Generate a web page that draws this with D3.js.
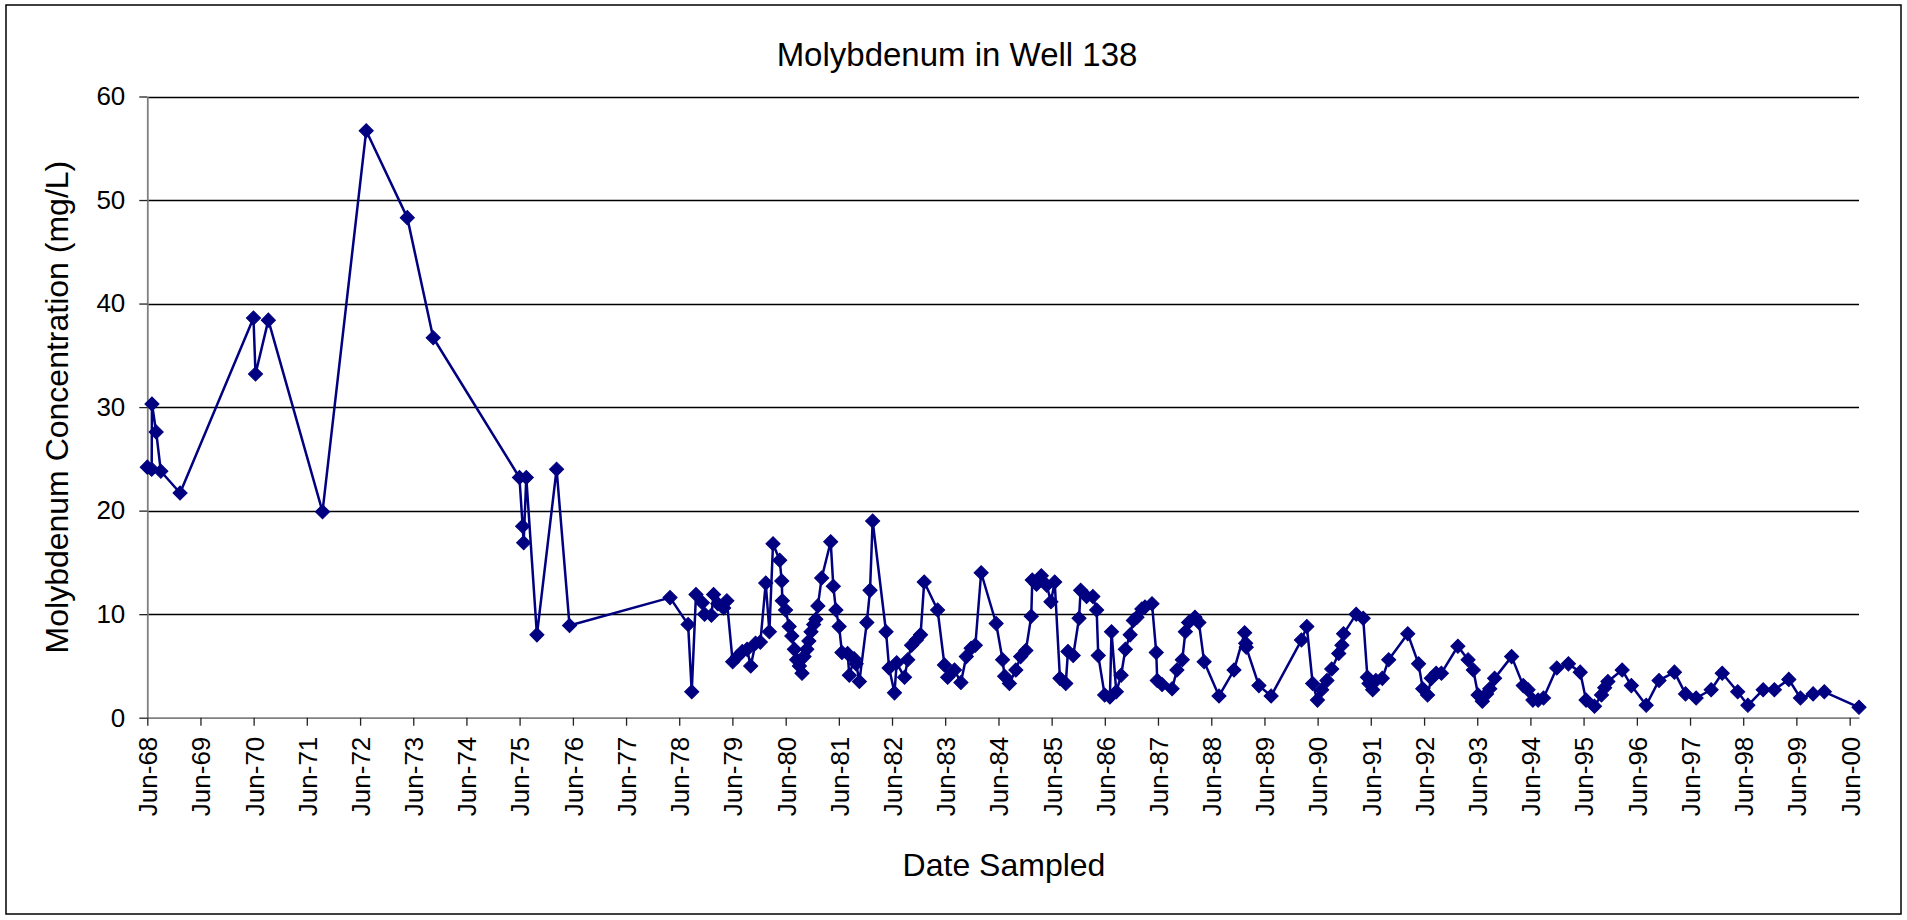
<!DOCTYPE html>
<html>
<head>
<meta charset="utf-8">
<script src="https://cdn.jsdelivr.net/npm/d3@7"></script>
<style>
  body { margin: 0; background: #fff; }
  svg text { font-family: "Liberation Sans", Arial, sans-serif; fill: #000; }
</style>
</head>
<body>
<svg id="chart" width="1907" height="920"></svg>
<script>
// sample dates and Mo concentration (mg/L)
const sampleDates = [
  "1968-06-01","1968-07-01","1968-07-03","1968-08-01","1968-09-02","1969-01-12",
  "1970-05-31","1970-06-14","1970-09-10","1971-09-17","1972-07-13","1973-04-21","1973-10-16",
  "1975-05-31","1975-06-22","1975-06-29","1975-07-17","1975-09-28","1976-02-10","1976-05-09",
  "1978-03-30","1978-08-01","1978-08-26","1978-09-24","1978-11-07","1978-11-22",
  "1979-01-08","1979-01-23","1979-02-21","1979-04-02","1979-04-24","1979-06-03","1979-07-06","1979-08-08","1979-09-10","1979-10-05","1979-11-07","1979-12-10",
  "1980-01-16","1980-02-10","1980-03-06","1980-04-21","1980-05-05","1980-05-09","1980-05-31","1980-06-25","1980-07-13","1980-07-31","1980-08-15","1980-09-03","1980-09-21","1980-10-05","1980-10-24","1980-11-07","1980-11-22","1980-12-10","1980-12-25",
  "1981-01-08","1981-02-03","1981-04-06","1981-04-24","1981-05-12","1981-06-03","1981-06-22","1981-07-31","1981-08-12","1981-09-14","1981-09-28","1981-10-20","1981-12-10",
  "1982-01-01","1982-01-19","1982-04-21","1982-05-12","1982-06-18","1982-07-03","1982-08-26","1982-09-17","1982-10-13","1982-11-15","1982-12-14",
  "1983-01-08","1983-04-10","1983-05-27","1983-06-18","1983-08-04","1983-09-17","1983-10-24","1983-11-26","1983-12-25",
  "1984-02-03","1984-05-16","1984-06-29","1984-07-13","1984-08-15","1984-09-28","1984-10-31","1984-12-06",
  "1985-01-12","1985-01-19","1985-02-17","1985-03-22","1985-04-28","1985-05-27","1985-06-22","1985-07-28","1985-09-06","1985-09-21","1985-10-27","1985-12-06","1985-12-17",
  "1986-01-27","1986-03-11","1986-04-06","1986-04-17","1986-05-31","1986-07-06","1986-07-17","1986-08-19","1986-09-21","1986-10-20","1986-11-22","1986-12-14",
  "1987-01-08","1987-02-10","1987-03-04","1987-04-21","1987-05-20","1987-05-27","1987-06-29","1987-09-06","1987-10-09","1987-11-15","1987-12-06","1987-12-28",
  "1988-02-10","1988-03-08","1988-04-13","1988-07-24","1988-11-04","1989-01-16","1989-01-23","1989-01-27","1989-04-24","1989-07-17",
  "1990-02-10","1990-03-19","1990-04-28","1990-05-31","1990-06-29","1990-08-04","1990-09-06","1990-10-24","1990-11-15","1990-11-26",
  "1991-02-21","1991-04-10","1991-05-09","1991-05-20","1991-06-14","1991-07-06","1991-08-19","1991-10-02",
  "1992-02-10","1992-04-24","1992-05-23","1992-06-25","1992-07-21","1992-08-23","1992-09-28",
  "1993-01-19","1993-03-30","1993-05-05","1993-06-07","1993-07-06","1993-08-04","1993-08-26","1993-09-28",
  "1994-01-23","1994-04-13","1994-05-16","1994-06-18","1994-07-24","1994-08-30","1994-11-29",
  "1995-02-17","1995-05-09","1995-06-18","1995-08-15","1995-10-02","1995-10-24","1995-11-15",
  "1996-02-21","1996-04-24","1996-08-04","1996-10-31","1997-02-14","1997-05-01","1997-07-13","1997-10-24",
  "1998-01-08","1998-04-24","1998-07-03","1998-10-16","1999-01-01","1999-04-10","1999-06-29","1999-09-24","1999-12-10","2000-08-04"
];

const molybdenum = [
  24.2,24.0,30.3,27.6,23.8,21.7,
  38.6,33.2,38.4,19.9,56.7,48.3,36.7,
  23.2,18.5,16.9,23.2,8.0,24.0,8.9,
  11.6,9.0,2.5,11.9,11.1,10.0,
  9.9,11.9,11.0,10.6,11.3,5.4,5.9,6.4,6.6,5.0,7.2,7.3,
  13.0,8.3,16.8,15.2,13.2,11.3,10.4,8.8,7.9,6.6,5.6,5.0,4.3,5.9,6.6,7.4,8.3,9.0,9.5,
  10.8,13.5,17.0,12.7,10.4,8.8,6.3,6.2,4.1,5.7,5.2,3.5,9.2,
  12.3,19.0,8.3,4.8,2.4,5.3,3.9,5.6,7.0,7.5,8.0,
  13.1,10.4,5.1,3.9,4.6,3.4,5.9,6.7,7.0,
  14.0,9.1,5.6,4.0,3.3,4.6,5.9,6.5,
  9.8,13.3,12.9,13.7,12.8,11.2,13.1,3.8,3.3,6.4,6.0,9.6,12.3,
  11.7,11.7,10.4,6.0,2.2,2.0,8.3,2.5,4.1,6.6,8.0,9.4,
  9.7,10.5,10.7,11.0,6.3,3.6,3.2,2.8,4.6,5.6,8.3,9.2,
  9.7,9.2,5.4,2.1,4.6,8.2,7.2,6.8,3.1,2.1,
  7.5,8.8,3.3,1.7,2.7,3.6,4.7,6.2,7.0,8.1,
  10.0,9.6,3.9,3.3,2.7,3.6,3.8,5.6,
  8.1,5.2,2.8,2.2,3.8,4.3,4.3,
  6.9,5.6,4.6,2.2,1.6,2.3,2.8,3.8,
  5.9,3.1,2.7,1.7,1.7,1.9,4.8,
  5.2,4.4,1.7,1.1,2.2,2.9,3.5,
  4.6,3.1,1.2,3.6,4.4,2.3,1.9,2.7,
  4.3,2.5,1.2,2.7,2.7,3.7,1.9,2.3,2.5,1.0
];

const yTicks = [0, 10, 20, 30, 40, 50, 60];
const tickYears = d3.range(1968, 2001);   // Jun-68 .. Jun-00

const chartTitle = "Molybdenum in Well 138";
const xTitle = "Date Sampled";
const yTitle = "Molybdenum Concentration (mg/L)";

const W = 1907, H = 920;
const plot = { left: 147.3, right: 1859, top: 96.5, bottom: 717.7 };

const parse = d3.timeParse("%Y-%m-%d");
const data = sampleDates.map((d, i) => ({ date: parse(d), value: molybdenum[i] }));

const svg = d3.select("#chart");

// outer chart border
svg.append("rect")
  .attr("x", 6).attr("y", 5)
  .attr("width", 1895).attr("height", 909)
  .attr("fill", "#fff")
  .attr("stroke", "#000")
  .attr("stroke-width", 1.5);

const x = d3.scaleTime()
  .domain(d3.extent(data, d => d.date))
  .range([plot.left, plot.right]);

const y = d3.scaleLinear()
  .domain([0, 60])
  .range([plot.bottom, plot.top]);

// gridlines
svg.append("g")
  .selectAll("line")
  .data(yTicks.filter(t => t > 0))
  .enter()
  .append("line")
  .attr("x1", plot.left).attr("x2", plot.right)
  .attr("y1", d => Math.round(y(d)) + 0.5)
  .attr("y2", d => Math.round(y(d)) + 0.5)
  .style("stroke", "#000")
  .style("stroke-width", 1.4);

// y axis
const yAxis = svg.append("g")
  .attr("transform", "translate(" + plot.left + ",0)")
  .call(d3.axisLeft(y).tickValues(yTicks).tickSize(8).tickSizeOuter(0).tickPadding(14));
yAxis.select(".domain").style("stroke", "#808080").style("stroke-width", 1.8);
yAxis.selectAll(".tick line").style("stroke", "#222").style("stroke-width", 1.3);
yAxis.selectAll("text").style("font-size", "26px");

// x axis
const xAxis = svg.append("g")
  .attr("transform", "translate(0," + plot.bottom + ")")
  .call(d3.axisBottom(x)
    .tickValues(tickYears.map(yr => new Date(yr, 5, 1)))
    .tickFormat(d3.timeFormat("%b-%y"))
    .tickSize(8)
    .tickSizeOuter(0));
xAxis.select(".domain").style("stroke", "#808080").style("stroke-width", 1.8);
xAxis.selectAll(".tick line").style("stroke", "#222").style("stroke-width", 1.3);
xAxis.selectAll("text")
  .style("font-size", "26px")
  .attr("text-anchor", "end")
  .attr("x", -19)
  .attr("y", 0)
  .attr("dy", "0.36em")
  .attr("transform", "rotate(-90)");

// series line
const line = d3.line()
  .x(d => x(d.date))
  .y(d => y(d.value));

svg.append("path")
  .datum(data)
  .attr("d", line)
  .attr("fill", "none")
  .style("stroke", "#000080")
  .style("stroke-width", 2.5)
  .style("stroke-linejoin", "round");

// diamond markers
const diamond = d3.symbol().type(d3.symbolSquare).size(100);
svg.append("g")
  .selectAll("path")
  .data(data)
  .enter()
  .append("path")
  .attr("d", diamond)
  .attr("transform", d => "translate(" + x(d.date) + "," + y(d.value) + ") rotate(45)")
  .style("fill", "#000080")
  .style("stroke", "#000080")
  .style("stroke-width", 1);

// titles
svg.append("text")
  .attr("x", 957).attr("y", 66)
  .attr("text-anchor", "middle")
  .style("font-size", "33px")
  .text(chartTitle);

svg.append("text")
  .attr("x", 1004).attr("y", 876)
  .attr("text-anchor", "middle")
  .style("font-size", "32px")
  .text(xTitle);

svg.append("text")
  .attr("transform", "translate(68," + ((plot.top + plot.bottom) / 2) + ") rotate(-90)")
  .attr("text-anchor", "middle")
  .style("font-size", "32px")
  .text(yTitle);
</script>
</body>
</html>
